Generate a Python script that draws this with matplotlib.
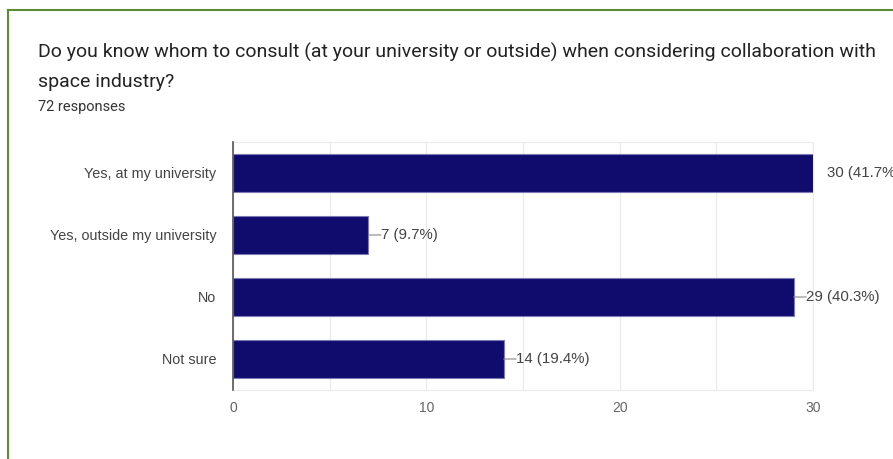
import matplotlib.pyplot as plt
from matplotlib.lines import Line2D

categories = ["Yes, at my university", "Yes, outside my university", "No", "Not sure"]
counts = [30, 7, 29, 14]
percents = [41.7, 9.7, 40.3, 19.4]
total_responses = 72

plt.rcParams["font.family"] = ["Liberation Sans", "DejaVu Sans"]

fig = plt.figure(figsize=(8.93, 4.59), dpi=100)
ax = fig.add_axes([233 / 893, 1 - 390 / 459, 580 / 893, 248 / 459])

y = range(len(categories))
ax.barh(y, counts, height=0.6, color="#0f0c6e", edgecolor="#7d7ab3", linewidth=0.8, zorder=3)

ax.set_xlim(0, 30)
ax.set_ylim(len(categories) - 0.5, -0.5)
ax.set_yticks(list(y))
ax.set_yticklabels(categories, fontsize=10.4, color="#444444")
ax.set_xticks([0, 10, 20, 30])
ax.set_xticks([5, 15, 25], minor=True)
ax.tick_params(axis="x", which="both", length=0, labelsize=10, labelcolor="#666666", pad=8)
ax.tick_params(axis="y", length=0, pad=12)
ax.grid(axis="x", which="both", color="#ebebeb", linewidth=1, zorder=0)

for side in ["top", "right", "bottom"]:
    ax.spines[side].set_color("#ebebeb")
ax.spines["left"].set_color("#555555")
ax.spines["left"].set_linewidth(1.2)
ax.spines["left"].set_zorder(4)

xmax = ax.get_xlim()[1]
for i, (c, p) in enumerate(zip(counts, percents)):
    if c < xmax:
        ax.annotate("", xy=(c, i), xytext=(9, 0), textcoords="offset points",
                    arrowprops=dict(arrowstyle="-", color="#888888", lw=0.8, shrinkA=0, shrinkB=0),
                    annotation_clip=False)
        off = 9
    else:
        off = 10
    ax.annotate(f"{c} ({p}%)", xy=(c, i), xytext=(off, 0), textcoords="offset points",
                va="center", ha="left", fontsize=10.8, color="#444444", annotation_clip=False)

fig.text(38 / 893, 1 - 52 / 459,
         "Do you know whom to consult (at your university or outside) when considering collaboration with",
         fontsize=14, color="#222222", va="center", ha="left", family="Roboto")
fig.text(38 / 893, 1 - 82 / 459, "space industry?", fontsize=14, color="#222222", va="center", ha="left",
         family="Roboto")
fig.text(38 / 893, 1 - 107 / 459, f"{total_responses} responses", fontsize=10.5, color="#333333",
         va="center", ha="left", family="Roboto")

# card border
fig.add_artist(Line2D([8 / 893, 8 / 893], [0, 1 - 10 / 459], color="#5b8c34", lw=1.5))
fig.add_artist(Line2D([8 / 893, 1], [1 - 10 / 459, 1 - 10 / 459], color="#5b8c34", lw=1.5))

fig.savefig("out.png", dpi=100)
